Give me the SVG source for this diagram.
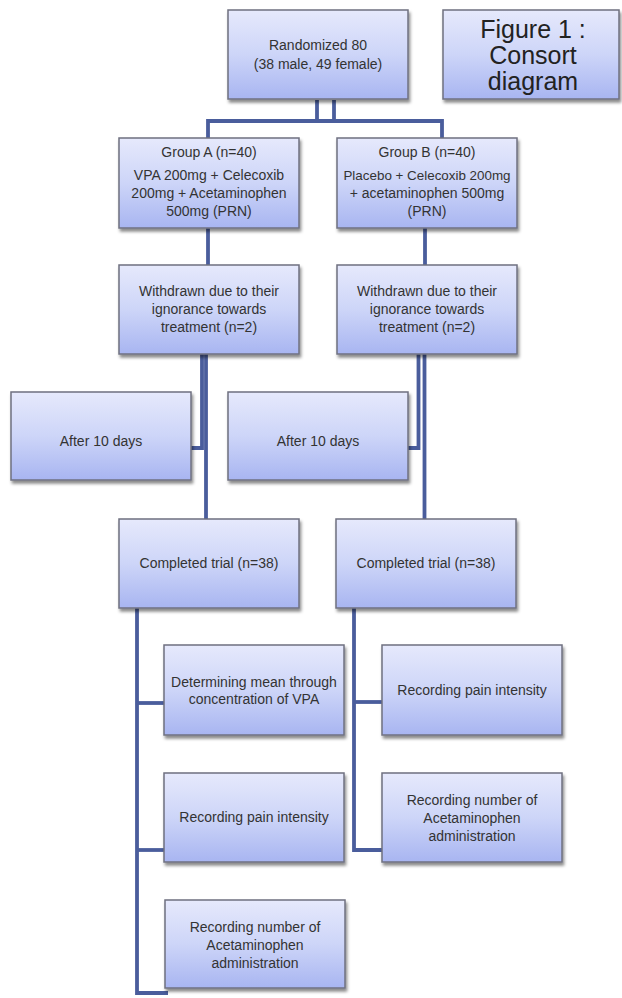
<svg xmlns="http://www.w3.org/2000/svg" width="622" height="998" viewBox="0 0 622 998">
<defs>
<linearGradient id="g" x1="0" y1="0" x2="0" y2="1">
<stop offset="0" stop-color="#e6e9fc"/>
<stop offset="0.5" stop-color="#cdd5f8"/>
<stop offset="1" stop-color="#a8b5f1"/>
</linearGradient>
<filter id="sh" x="-10%" y="-10%" width="125%" height="130%">
<feDropShadow dx="1.5" dy="3" stdDeviation="1.8" flood-color="#000" flood-opacity="0.45"/>
</filter>
<style>
.box{fill:url(#g);stroke:#6f7080;stroke-width:1.5;filter:url(#sh)}
.t{font-family:"Liberation Sans",Arial,sans-serif;font-size:14px;fill:#333;text-anchor:middle;dominant-baseline:central}
.s{font-size:13.4px}
.fig{font-family:"Liberation Sans",Arial,sans-serif;font-size:25px;fill:#222;text-anchor:middle;dominant-baseline:central}
.c{fill:none;stroke:#4a5d9c;stroke-width:3.8;stroke-linejoin:miter;stroke-linecap:butt}
</style>
</defs>
<rect width="622" height="998" fill="#fff"/>

<g id="connectors">
<polyline class="c" points="317,100 317,121"/>
<polyline class="c" points="334,100 334,121"/>
<polyline class="c" points="208,138 208,121 442,121 442,138"/>
<polyline class="c" points="208,228 208,265"/>
<polyline class="c" points="425,228 425,265"/>
<polyline class="c" points="202,354 202,448 191,448"/>
<polyline class="c" points="206,354 206,519"/>
<polyline class="c" points="418.5,354 418.5,448 407,448"/>
<polyline class="c" points="424.5,354 424.5,519"/>
<polyline class="c" points="137,608 137,993 168,993"/>
<polyline class="c" points="137,703 164,703"/>
<polyline class="c" points="137,850 165,850"/>
<polyline class="c" points="354,608 354,850 382,850"/>
<polyline class="c" points="354,702 382,702"/>
</g>

<g id="randomized">
<rect class="box" x="228" y="10" width="180" height="89"/>
<text class="t" x="318" y="45">Randomized 80</text>
<text class="t" x="318" y="64">(38 male, 49 female)</text>
</g>

<g id="figure-title">
<rect class="box" x="443" y="10" width="176" height="89"/>
<text class="fig" x="533" y="29">Figure 1 :</text>
<text class="fig" x="533" y="55">Consort</text>
<text class="fig" x="533" y="81">diagram</text>
</g>

<g id="group-a">
<rect class="box" x="119" y="138" width="180" height="90"/>
<text class="t" x="209" y="152">Group A (n=40)</text>
<text class="t" x="209" y="175">VPA 200mg + Celecoxib</text>
<text class="t" x="209" y="193">200mg + Acetaminophen</text>
<text class="t" x="209" y="211">500mg (PRN)</text>
</g>

<g id="group-b">
<rect class="box" x="337" y="138" width="180" height="90"/>
<text class="t" x="427" y="152">Group B (n=40)</text>
<text class="t s" x="427" y="175">Placebo + Celecoxib 200mg</text>
<text class="t" x="427" y="193">+ acetaminophen 500mg</text>
<text class="t" x="427" y="211">(PRN)</text>
</g>

<g id="withdrawn-a">
<rect class="box" x="119" y="265" width="180" height="89"/>
<text class="t" x="209" y="291">Withdrawn due to their</text>
<text class="t" x="209" y="309">ignorance towards</text>
<text class="t" x="209" y="327">treatment (n=2)</text>
</g>

<g id="withdrawn-b">
<rect class="box" x="337" y="265" width="180" height="89"/>
<text class="t" x="427" y="291">Withdrawn due to their</text>
<text class="t" x="427" y="309">ignorance towards</text>
<text class="t" x="427" y="327">treatment (n=2)</text>
</g>

<g id="after-a">
<rect class="box" x="11" y="392" width="180" height="88"/>
<text class="t" x="101" y="441">After 10 days</text>
</g>

<g id="after-b">
<rect class="box" x="228" y="392" width="180" height="88"/>
<text class="t" x="318" y="441">After 10 days</text>
</g>

<g id="completed-a">
<rect class="box" x="119" y="519" width="180" height="89"/>
<text class="t" x="209" y="563">Completed trial (n=38)</text>
</g>

<g id="completed-b">
<rect class="box" x="336" y="519" width="180" height="89"/>
<text class="t" x="426" y="563">Completed trial (n=38)</text>
</g>

<g id="determining-a">
<rect class="box" x="164" y="645" width="180" height="90"/>
<text class="t" x="254" y="682">Determining mean through</text>
<text class="t" x="254" y="699">concentration of VPA</text>
</g>

<g id="pain-a">
<rect class="box" x="164" y="773" width="180" height="89"/>
<text class="t" x="254" y="817">Recording pain intensity</text>
</g>

<g id="number-a">
<rect class="box" x="165" y="900" width="180" height="88"/>
<text class="t" x="255" y="927">Recording number of</text>
<text class="t" x="255" y="945">Acetaminophen</text>
<text class="t" x="255" y="963">administration</text>
</g>

<g id="pain-b">
<rect class="box" x="382" y="645" width="180" height="90"/>
<text class="t" x="472" y="690">Recording pain intensity</text>
</g>

<g id="number-b">
<rect class="box" x="382" y="773" width="180" height="89"/>
<text class="t" x="472" y="800">Recording number of</text>
<text class="t" x="472" y="818">Acetaminophen</text>
<text class="t" x="472" y="836">administration</text>
</g>
</svg>
